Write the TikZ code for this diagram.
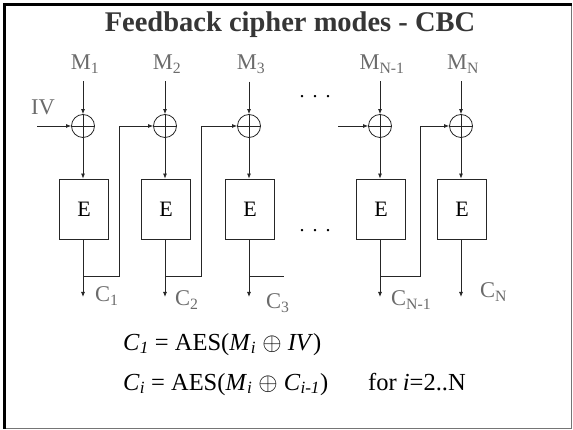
\documentclass[tikz,border=0pt]{standalone}
\usepackage{fontspec}
\setmainfont{Liberation Serif}
\usetikzlibrary{arrows.meta}
\definecolor{labgray}{HTML}{6B6B6B}
\definecolor{titlegray}{HTML}{363636}
\definecolor{framegray}{HTML}{757575}
\def\xory{126}
\def\fby{276}
\def\outy{297}
\newcommand{\Mlab}[1]{M\textsubscript{#1}}
\newcommand{\Clab}[1]{C\textsubscript{#1}}
\newcommand{\It}[1]{\textit{#1}}

\begin{document}
\begin{tikzpicture}[x=1pt,y=-1pt,
  wire/.style={black!85,line width=0.8pt},
  arr/.style={wire,-{Latex[length=5pt,width=4pt]}},
  xorc/.style={circle,draw=black!85,line width=0.8pt,minimum size=23pt,inner sep=0pt},
  ebox/.style={draw=black!85,line width=0.8pt,minimum width=49pt,minimum height=60pt,
    inner sep=0pt,font=\fontsize{22}{24}\selectfont},
  lab/.style={text=labgray,font=\fontsize{22.5}{25}\selectfont,inner sep=0pt},
  eqn/.style={anchor=base west,inner sep=0pt,font=\fontsize{24.5}{27}\selectfont}]

\useasboundingbox (0,0) rectangle (573,430);

% --- slide frame -------------------------------------------------------
\draw[framegray,line width=1.5pt] (571.5,4.5) -- (571.5,428.5) -- (4.5,428.5);
\draw[black,line width=2.4pt] (4.5,428.5) -- (4.5,4.5) -- (572,4.5);

\node[anchor=base,text=titlegray,font=\fontsize{28.5}{31}\selectfont\bfseries] (title)
  at (290,32) {Feedback cipher modes - CBC};

% --- one column per block ---------------------------------------------
\foreach \i/\x/\m in {1/83/1,2/165/2,3/249/3,4/380/N-1,5/461/N}{
  \node[xorc] (x\i) at (\x,\xory) {};
  \draw[wire] (x\i.north) -- (x\i.south) (x\i.west) -- (x\i.east);
  \node[lab,anchor=base,inner ysep=8pt] (m\i) at (\x+2,70) {\Mlab{\m}};
  \node[ebox] (e\i) at (\x+1,209) {E};
  \coordinate (o\i) at (\x,\outy);
  \coordinate (t\i) at (\x,\fby);
  \draw[arr] (m\i.south -| x\i.north) -- (x\i.north);
  \draw[arr] (x\i.south) -- (x\i.south |- e\i.north);
  \draw[arr] (x\i.south |- e\i.south) -- (o\i);
}

% --- ciphertext labels ---------------------------------------------------
\foreach \i/\dx/\dy/\c in {1/12/296/1,2/10/300/2,3/17/303/3,4/11/300/N-1,5/19/292/N}{
  \node[lab,anchor=west,xshift=\dx pt] (c\i) at (o\i |- 0,\dy) {\Clab{\c}};
}

% --- chaining ------------------------------------------------------------
\node[lab] (iv) at (43,107) {IV};
\coordinate (ivin) at (37,\xory);
\draw[arr] (ivin) -- (x1.west);
\draw[arr] (t1) -- ++(36,0) |- (x2.west);
\draw[arr] (t2) -- ++(36,0) |- (x3.west);
\coordinate (s3) at (284,\fby);
\draw[wire] (t3) -- (s3);
\coordinate (fbin) at (338,\xory);
\draw[arr] (fbin) -- (x4.west);
\draw[arr] (t4) -- ++(40,0) |- (x5.west);

\node[font=\fontsize{20}{22}\selectfont,inner sep=0pt] (dtop) at (315,97) {.\hspace{8pt}.\hspace{8pt}.};
\node[font=\fontsize{20}{22}\selectfont,inner sep=0pt] (dmid) at (315,231) {.\hspace{8pt}.\hspace{8pt}.};

% --- equations -----------------------------------------------------------
\node[eqn] (f1) at (123,350) {\It{C}\textsubscript{\It{1}} = AES(\It{M}\textsubscript{\It{i}} $\oplus$ \It{IV})};
\node[eqn] (f2) at (123,390) {\It{C}\textsubscript{\It{i}} = AES(\It{M}\textsubscript{\It{i}} $\oplus$ \It{C}\textsubscript{\It{i-1}})};
\node[eqn] (f3) at (368,390) {for \It{i}=2..N};

\end{tikzpicture}
\end{document}
